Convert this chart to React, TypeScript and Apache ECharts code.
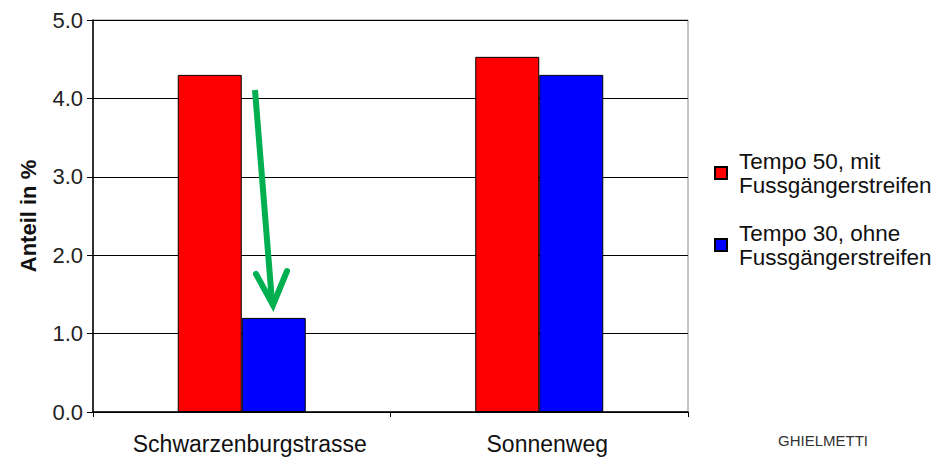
import React, { useEffect, useRef } from "react";
import * as echarts from "echarts";

const categories = ["Schwarzenburgstrasse", "Sonnenweg"];
const seriesNames = ["Tempo 50, mit\nFussgängerstreifen", "Tempo 30, ohne\nFussgängerstreifen"];
const tempo50 = [4.3, 4.53];
const tempo30 = [1.2, 4.3];
const seriesColors = ["#ff0000", "#0000ff"];
const yTicks = { min: 0, max: 5, interval: 1 };

export default function App() {
  const ref = useRef<HTMLDivElement>(null);
  useEffect(() => {
    if (!ref.current) return;
    const chart = echarts.init(ref.current, null, { renderer: "svg" });
    const font = "Liberation Sans, Arial, sans-serif";
    chart.setOption({
      animation: false,
      backgroundColor: "#ffffff",
      textStyle: { fontFamily: font },
      grid: {
        left: 93,
        right: 253,
        top: 20,
        bottom: 46,
        show: true,
        borderColor: "#8a8a8a",
        borderWidth: 1,
        backgroundColor: "transparent",
      },
      legend: {
        orient: "vertical",
        left: 714,
        top: 137,
        padding: 0,
        itemGap: 0,
        itemWidth: 12,
        itemHeight: 12,
        icon: "rect",
        textStyle: {
          fontFamily: font,
          fontSize: 22.5,
          lineHeight: 24,
          color: "#111",
          padding: [24, 0, 0, 7],
        },
        data: seriesNames,
      },
      xAxis: {
        type: "category",
        data: categories,
        axisLine: { lineStyle: { color: "#000", width: 1.5 } },
        axisTick: { show: true, length: 5, lineStyle: { color: "#000" } },
        axisLabel: {
          interval: 0,
          hideOverlap: false,
          fontFamily: font,
          fontSize: 23,
          color: "#111",
          margin: 20,
          padding: [0, 0, 0, 16],
        },
      },
      yAxis: {
        type: "value",
        min: yTicks.min,
        max: yTicks.max,
        interval: yTicks.interval,
        name: "Anteil in %",
        nameLocation: "middle",
        nameRotate: 90,
        nameGap: 54,
        nameTextStyle: { fontFamily: font, fontSize: 22, fontWeight: "bold", color: "#111" },
        axisLine: { show: true, lineStyle: { color: "#000", width: 1.5 } },
        axisTick: { show: true, length: 6, lineStyle: { color: "#000" } },
        axisLabel: {
          fontFamily: font,
          fontSize: 22,
          color: "#222",
          margin: 10,
          formatter: (v: number) => v.toFixed(1),
        },
        splitLine: { show: true, lineStyle: { color: "#000", width: 1.2 } },
      },
      series: [
        {
          name: seriesNames[0],
          type: "bar",
          data: tempo50,
          barWidth: 64,
          barGap: "0%",
          itemStyle: { color: seriesColors[0], borderColor: "#000", borderWidth: 1 },
        },
        {
          name: seriesNames[1],
          type: "bar",
          data: tempo30,
          barWidth: 64,
          barGap: "0%",
          itemStyle: { color: seriesColors[1], borderColor: "#000", borderWidth: 1 },
        },
      ],
      graphic: [
        {
          type: "polyline",
          shape: { points: [[255, 90], [272, 302]] },
          style: { stroke: "#00b050", lineWidth: 6, fill: null },
          z: 100,
        },
        {
          type: "polyline",
          shape: { points: [[256, 274], [273, 305], [287, 271]] },
          style: { stroke: "#00b050", lineWidth: 6, fill: null, lineJoin: "miter", lineCap: "round" },
          z: 100,
        },
        {
          type: "text",
          left: 778,
          top: 433,
          style: { text: "GHIELMETTI", fontFamily: font, fontSize: 15, fill: "#333" },
        },
      ],
    });
    return () => chart.dispose();
  }, []);
  return <div ref={ref} style={{ width: 941, height: 458, position: "absolute", left: 0, top: 0 }} />;
}
